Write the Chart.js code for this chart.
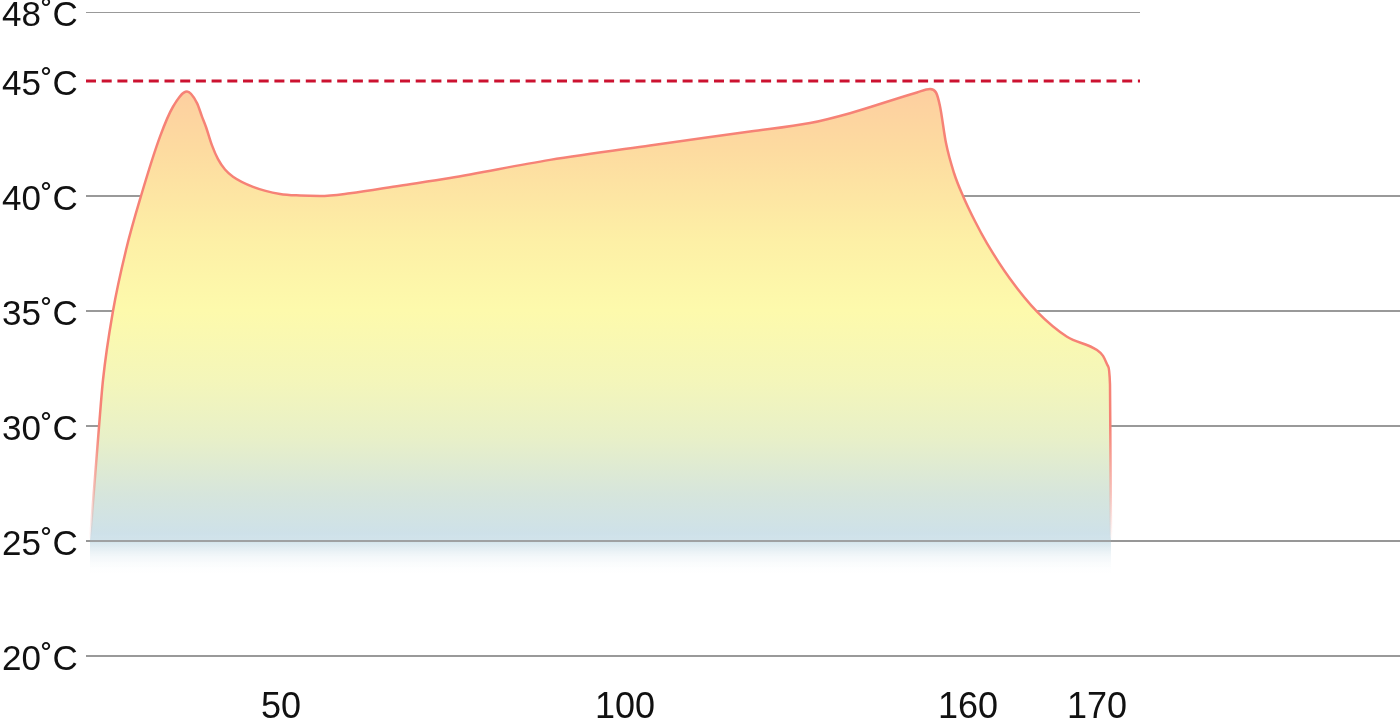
<!DOCTYPE html>
<html>
<head>
<meta charset="utf-8">
<script src="https://cdn.jsdelivr.net/npm/chart.js@4/dist/chart.umd.min.js"></script>
<style>
  html, body { margin: 0; padding: 0; background: #ffffff; }
  #wrap { width: 1400px; height: 723px; position: relative; }
</style>
</head>
<body>
<div id="wrap"><canvas id="c" width="1400" height="723"></canvas></div>
<script>
// ---- data ----
const tempX = [4, 13, 17, 27, 40, 55, 74, 87, 101, 111, 116, 120, 126, 132, 139, 147, 167, 194, 214, 234, 264, 314, 364, 464, 564, 664, 724, 764, 831, 844, 850, 854, 860, 868, 877, 889, 901, 924, 951, 981, 1011, 1017, 1022, 1024, 1025];
const tempC = [25, 29.96, 32.0, 35.0, 37.65, 40.0, 42.58, 43.88, 44.54, 44.04, 43.45, 43.0, 42.2, 41.6, 41.15, 40.84, 40.4, 40.09, 40.02, 40.0, 40.12, 40.45, 40.78, 41.57, 42.2, 42.8, 43.17, 43.6, 44.5, 44.65, 44.5, 43.9, 42.3, 41.0, 40.0, 38.9, 37.94, 36.4, 34.97, 33.88, 33.3, 33.05, 32.6, 31.8, 25];
const yTicks = [20, 25, 30, 35, 40, 45, 48];
const xTickValues = [195, 539, 882, 1011];
const xTickLabels = ['50', '100', '160', '170'];
const limitTemp = 45;
const maxTemp = 48;
const baseTemp = 25;
const refLineX = [0, 1054];

// ---- styles ----
const fillStops = [
  [45, 'rgb(253,205,160)'],
  [42, 'rgb(253,219,160)'],
  [38, 'rgb(253,240,166)'],
  [35, 'rgb(253,250,172)'],
  [32, 'rgb(244,246,186)'],
  [29.5, 'rgb(232,240,200)'],
  [27, 'rgb(214,229,220)'],
  [25.3, 'rgb(206,225,233)'],
  [25, 'rgba(208,226,234,0.95)'],
  [24.4, 'rgba(225,236,242,0.5)'],
  [23.5, 'rgba(255,255,255,0)']
];
const lineStops = [
  [45, 'rgba(246,130,118,1)'],
  [30, 'rgba(246,130,118,1)'],
  [27, 'rgba(246,130,118,0.45)'],
  [25, 'rgba(246,130,118,0)']
];

function vGradient(chart, stops) {
  const { ctx, chartArea, scales } = chart;
  if (!chartArea) return null;
  const y = scales.y;
  const top = stops[0][0], bot = stops[stops.length - 1][0];
  const g = ctx.createLinearGradient(0, y.getPixelForValue(top), 0, y.getPixelForValue(bot));
  stops.forEach(([v, c]) => g.addColorStop((top - v) / (top - bot), c));
  return g;
}

const yFont = { family: "'Liberation Sans', Arial, sans-serif", size: 35 };
const xFont = { family: "'Liberation Sans', Arial, sans-serif", size: 36 };

new Chart(document.getElementById('c'), {
  type: 'line',
  data: {
    datasets: [
      {
        label: 'temperature',
        data: tempX.map((x, i) => ({ x, y: tempC[i] })),
        borderColor: (ctx) => vGradient(ctx.chart, lineStops),
        backgroundColor: (ctx) => vGradient(ctx.chart, fillStops),
        borderWidth: 2.5,
        fill: { value: 23.5 },
        cubicInterpolationMode: 'monotone',
        pointRadius: 0,
        order: 2
      },
      {
        label: 'limit',
        data: refLineX.map(x => ({ x, y: limitTemp })),
        borderColor: '#cc1230',
        borderWidth: 3,
        borderDash: [10, 5.7],
        pointRadius: 0,
        fill: false,
        order: 1
      },
      {
        label: 'max',
        data: refLineX.map(x => ({ x, y: maxTemp })),
        borderColor: '#999999',
        borderWidth: 2,
        pointRadius: 0,
        fill: false,
        order: 1
      }
    ]
  },
  options: {
    responsive: false,
    animation: false,
    layout: { padding: { top: 12, left: 2, right: 0, bottom: 0 } },
    plugins: { legend: { display: false }, tooltip: { enabled: false } },
    scales: {
      x: {
        type: 'linear',
        min: 0,
        max: 1314,
        afterBuildTicks: (s) => { s.ticks = xTickValues.map(v => ({ value: v })); },
        afterFit: (s) => { s.height = 67; s.paddingLeft = 0; s.paddingRight = 0; },
        grid: { display: false, drawTicks: false },
        border: { display: false },
        ticks: {
          autoSkip: false,
          maxRotation: 0,
          padding: 30,
          color: '#111',
          font: xFont,
          callback: (v, i) => xTickLabels[i]
        }
      },
      y: {
        min: 20,
        max: 48,
        afterBuildTicks: (s) => { s.ticks = yTicks.map(v => ({ value: v })); },
        afterFit: (s) => { s.width = 84; s.paddingTop = 0; s.paddingBottom = 0; },
        grid: {
          drawTicks: false,
          lineWidth: 2,
          color: (c) => (c.tick && (c.tick.value === limitTemp || c.tick.value === maxTemp)) ? 'rgba(0,0,0,0)' : '#999999'
        },
        border: { display: false },
        ticks: {
          autoSkip: false,
          crossAlign: 'far',
          padding: 0,
          labelOffset: 4,
          color: '#111',
          font: yFont,
          callback: (v) => v + '˚C'
        }
      },
      yBase: {
        position: 'left',
        min: 20,
        max: 48,
        afterBuildTicks: (s) => { s.ticks = [{ value: baseTemp }]; },
        afterFit: (s) => { s.width = 0; s.paddingTop = 0; s.paddingBottom = 0; },
        grid: { z: 1, drawTicks: false, lineWidth: 2, color: 'rgba(150,150,150,0.85)' },
        border: { display: false },
        ticks: { display: false }
      }
    }
  }
});
</script>
</body>
</html>
